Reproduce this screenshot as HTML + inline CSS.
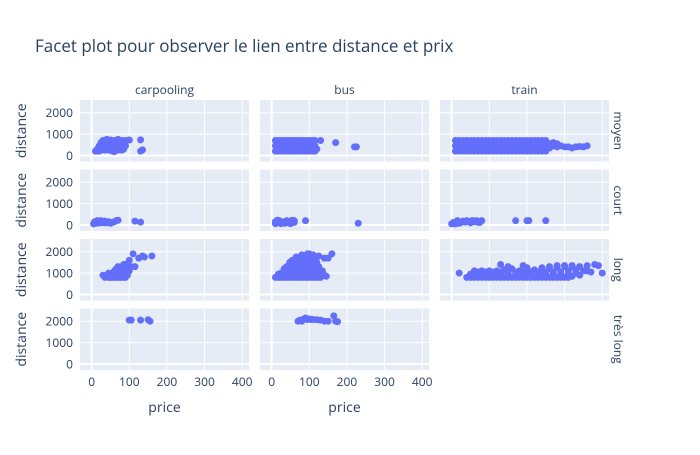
<!DOCTYPE html>
<html><head><meta charset="utf-8"><style>
body{margin:0;background:#fff;}
svg{font-family:"Open Sans","Liberation Sans",sans-serif;}
</style></head><body>
<svg id="c" width="700" height="450" viewBox="0 0 700 450" xmlns="http://www.w3.org/2000/svg">
<text x="35" y="52" font-size="17" fill="#2a3f5f">Facet plot pour observer le lien entre distance et prix</text>
</svg>
<script>
const columns = ["carpooling","bus","train"];
const rows = ["moyen","court","long","très long"];
const xTicks = [0,100,200,300,400];
const yTicks = [0,1000,2000];
const carpoolingMoyen = [[10,200],[15,300],[20,450],[25,600],[30,700],[40,750],[50,720],[60,700],[70,750],[80,700],[20,200],[35,250],[50,300],[65,350],[80,400],[40,500],[60,500],[75,550],[85,300],[90,700],[100,720],[130,730],[130,200],[135,260],[60,180],[45,400],[30,350],[90,450],[55,650],[70,600],[15,200],[25,250],[30,500],[35,650],[45,250],[45,600],[50,450],[55,300],[60,400],[65,550],[70,250],[75,700],[80,250],[85,600],[20,350],[40,350],[55,200],[70,450]];
const carpoolingCourt = [[5,50],[10,100],[20,150],[25,200],[35,180],[40,100],[50,80],[60,150],[65,200],[70,220],[30,120],[15,200],[115,180],[130,130],[8,150],[15,80],[25,100],[35,100],[45,150],[55,120]];
const carpoolingLong = [[30,900],[35,800],[45,1000],[50,800],[55,900],[60,1000],[65,1200],[70,1300],[75,900],[80,1100],[85,1400],[90,1300],[95,900],[100,1100],[100,1600],[105,1300],[110,1900],[125,1700],[135,1800],[140,1750],[160,1800],[60,800],[80,800],[90,800],[70,1100],[115,1300],[40,850],[45,800],[55,800],[65,800],[70,800],[75,800],[85,800],[70,950],[80,950],[90,1000],[60,1100],[75,1200],[85,1200],[95,1200],[80,1300],[90,1400]];
const carpoolingTresLong = [[100,2050],[105,2050],[130,2050],[150,2070],[155,2000]];
const busMoyen = [[10,200],[25,200],[40,200],[55,200],[70,200],[85,200],[100,200],[115,200],[10,450],[25,450],[40,450],[55,450],[70,450],[85,450],[100,450],[115,450],[10,700],[25,700],[40,700],[55,700],[70,700],[85,700],[100,700],[115,700],[130,700],[120,300],[170,600],[220,400],[225,400],[18,320],[32,320],[48,320],[62,320],[78,320],[92,320],[108,320],[18,580],[32,580],[48,580],[62,580],[78,580],[92,580],[108,580],[18,200],[32,200],[48,200],[62,200],[78,200],[92,200],[108,200],[18,700],[32,700],[48,700],[62,700],[78,700],[92,700],[108,700]];
const busCourt = [[10,60],[20,100],[30,150],[40,200],[50,180],[60,120],[15,220],[35,80],[55,220],[90,200],[230,80],[10,150],[20,200],[25,60],[45,100],[50,60],[60,200]];
const busLong = [[10,800],[25,800],[40,800],[55,800],[70,800],[85,800],[100,800],[115,800],[130,800],[145,850],[25,1000],[40,1100],[55,1100],[70,1100],[85,1100],[100,1100],[115,1100],[130,1000],[40,1300],[55,1400],[70,1400],[85,1400],[100,1400],[115,1400],[125,1300],[55,1600],[70,1650],[85,1700],[100,1650],[115,1600],[80,1850],[95,1900],[110,1850],[125,1800],[140,1700],[150,1700],[160,1900],[18,800],[33,800],[48,800],[63,800],[78,800],[93,800],[108,800],[123,800],[18,950],[33,950],[48,950],[63,950],[78,950],[93,950],[108,950],[123,950],[33,1200],[48,1250],[63,1250],[78,1250],[93,1250],[108,1250],[48,1500],[63,1500],[78,1550],[93,1550],[108,1500],[120,1500],[65,1750],[90,1800],[105,1750],[100,1900],[140,900],[135,1100]];
const busTresLong = [[70,2000],[75,2050],[85,2100],[90,2150],[100,2100],[110,2080],[120,2070],[130,2050],[140,2000],[150,2000],[165,2250],[170,2000],[175,1980],[80,2000],[95,2080],[105,2080]];
const trainMoyen = [[10,200],[30,200],[50,200],[70,200],[90,200],[110,200],[130,200],[150,200],[170,200],[190,200],[210,200],[230,200],[250,200],[10,450],[30,450],[50,450],[70,450],[90,450],[110,450],[130,450],[150,450],[170,450],[190,450],[210,450],[230,450],[250,450],[270,450],[10,700],[30,700],[50,700],[70,700],[90,700],[110,700],[130,700],[150,700],[170,700],[190,700],[210,700],[230,700],[250,700],[270,600],[280,550],[290,450],[300,400],[320,350],[330,400],[350,400],[360,450],[20,200],[40,200],[60,200],[80,200],[100,200],[120,200],[140,200],[160,200],[180,200],[200,200],[220,200],[240,200],[20,330],[40,330],[60,330],[80,330],[100,330],[120,330],[140,330],[160,330],[180,330],[200,330],[220,330],[240,330],[20,580],[40,580],[60,580],[80,580],[100,580],[120,580],[140,580],[160,580],[180,580],[200,580],[220,580],[240,580],[20,700],[40,700],[60,700],[80,700],[100,700],[120,700],[140,700],[160,700],[180,700],[200,700],[220,700],[240,700],[260,550],[260,350],[280,400],[310,400],[340,420]];
const trainCourt = [[0,50],[10,100],[20,150],[30,180],[40,200],[50,180],[60,150],[70,180],[80,200],[20,80],[50,100],[75,120],[170,200],[200,200],[205,200],[250,200],[5,120],[15,200],[25,120],[35,130],[45,150],[55,200],[65,200],[70,120],[10,50]];
const trainLong = [[20,1000],[40,800],[60,800],[80,800],[100,800],[120,800],[140,800],[160,800],[180,800],[200,800],[220,800],[240,800],[260,800],[280,800],[300,800],[320,850],[340,900],[60,1100],[80,1100],[100,1100],[120,1100],[140,1150],[160,1200],[180,1100],[200,1100],[220,1150],[240,1100],[260,1200],[280,1250],[300,1300],[320,1300],[340,1300],[360,1350],[380,1400],[390,1350],[400,1000],[130,1400],[190,1350],[350,1100],[50,800],[70,800],[90,800],[110,800],[130,800],[150,800],[170,800],[190,800],[210,800],[230,800],[250,800],[270,800],[290,800],[310,800],[50,950],[70,950],[90,950],[110,950],[130,950],[150,950],[170,950],[190,950],[210,950],[230,950],[250,950],[270,950],[290,950],[310,950],[330,1000],[70,1050],[90,1050],[110,1050],[130,1050],[150,1050],[170,1050],[190,1050],[210,1050],[230,1050],[250,1050],[270,1050],[290,1050],[310,1100],[330,1150],[360,1100],[370,1050],[280,1350],[300,1350],[320,1350],[260,1300],[150,1300],[200,1250],[240,1250]];
const trainTresLong = null;
const panelData = [
 [carpoolingMoyen, busMoyen, trainMoyen],
 [carpoolingCourt, busCourt, trainCourt],
 [carpoolingLong, busLong, trainLong],
 [carpoolingTresLong, busTresLong, trainTresLong]
];
const NS="http://www.w3.org/2000/svg";
const svg=document.getElementById('c');
const colX=[80,260,440], panelW=169;
const rowY=[100,169.5,239,308.5], panelH=61.5;
const xMin=-31, xMax=418, yMin=-283, yMax=2594;
function el(t,a,p){const e=document.createElementNS(NS,t);for(const k in a)e.setAttribute(k,a[k]);(p||svg).appendChild(e);return e;}
function sx(c,v){return colX[c]+(v-xMin)/(xMax-xMin)*panelW;}
function sy(r,v){return rowY[r]+panelH-(v-yMin)/(yMax-yMin)*panelH;}
for(let r=0;r<4;r++){for(let c=0;c<3;c++){
  const d=panelData[r][c]; if(!d) continue;
  const g=el('g',{});
  
  
  const bg=el('rect',{x:colX[c],y:rowY[r],width:panelW,height:panelH,fill:'#e5ecf6'},g);
  
  
  for(const t of xTicks){const l=el('line',{x1:sx(c,t),x2:sx(c,t),y1:rowY[r],y2:rowY[r]+panelH,stroke:'#fff','stroke-width':t===0?2:1},g);
    
    }
  for(const t of yTicks){const l=el('line',{x1:colX[c],x2:colX[c]+panelW,y1:sy(r,t),y2:sy(r,t),stroke:'#fff','stroke-width':t===0?2:1},g);
    
    }
  for(const p of d){const m=el('circle',{cx:sx(c,p[0]),cy:sy(r,p[1]),r:3.5,fill:'#636efa'},g);
    
    }
}}
for(let r=0;r<4;r++){
  for(const t of yTicks){const tx=el('text',{x:73,y:sy(r,t)+4.5,'font-size':12,fill:'#2a3f5f','text-anchor':'end'});tx.textContent=t;
    
    }
  const yt=el('text',{x:0,y:0,'font-size':14,fill:'#2a3f5f','text-anchor':'middle',transform:'translate(26,'+(rowY[r]+panelH/2)+') rotate(-90)'});yt.textContent='distance';
  
  
  const rl=el('text',{x:0,y:0,'font-size':12,fill:'#2a3f5f','text-anchor':'middle',transform:'translate(614,'+(rowY[r]+panelH/2)+') rotate(90)'});rl.textContent=rows[r];
  
  
}
for(let c=0;c<3;c++){
  const cl=el('text',{x:colX[c]+panelW/2,y:94,'font-size':12,fill:'#2a3f5f','text-anchor':'middle'});cl.textContent=columns[c];
  
  
  if(c<2){
    for(const t of xTicks){const tx=el('text',{x:sx(c,t),y:386,'font-size':12,fill:'#2a3f5f','text-anchor':'middle'});tx.textContent=t;
      
      }
    const xt=el('text',{x:colX[c]+panelW/2,y:412,'font-size':14,fill:'#2a3f5f','text-anchor':'middle'});xt.textContent='price';
    
    
  }
}
</script>
</body></html>
